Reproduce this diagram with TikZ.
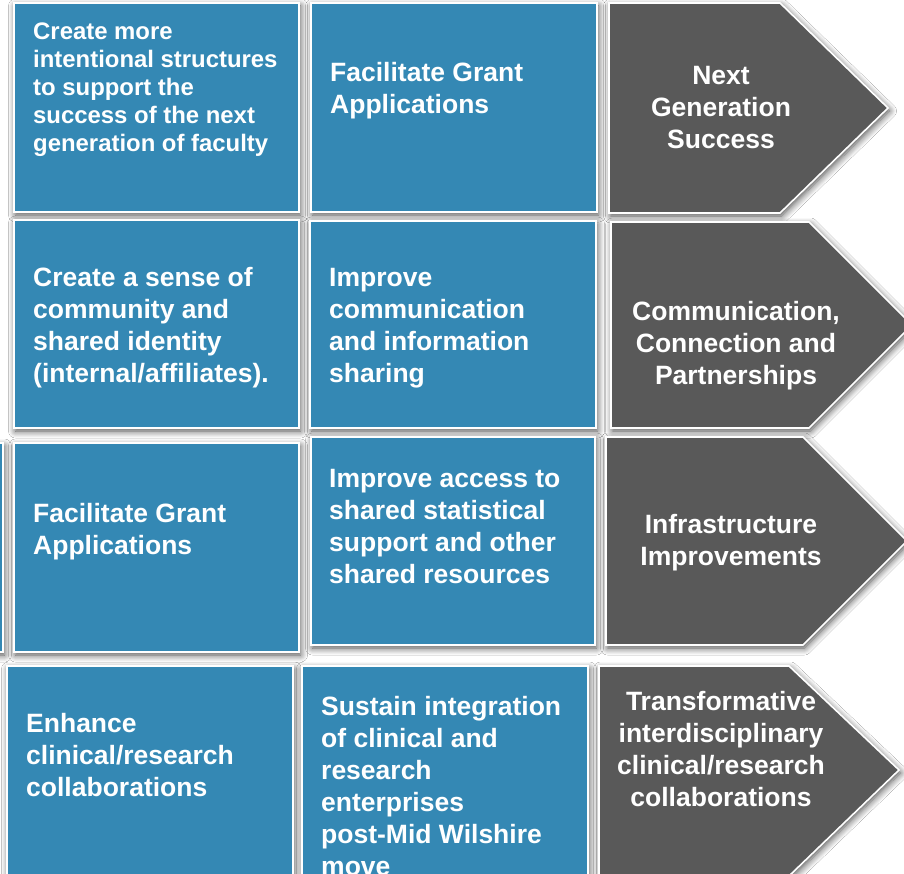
\documentclass[tikz,border=0pt]{standalone}
\usepackage{fontspec}
\setmainfont{Liberation Sans}
\usetikzlibrary{shadows.blur}
\definecolor{boxblue}{RGB}{52,136,180}
\definecolor{arrgray}{RGB}{89,89,89}
\tikzset{
  card/.style={fill=boxblue, draw=white, line width=1.6pt,
    blur shadow={shadow xshift=1.5pt, shadow yshift=-3pt, shadow blur radius=7pt, shadow opacity=70, shadow blur steps=8}},
  goal/.style={fill=arrgray, draw=white, line width=1.6pt,
    blur shadow={shadow xshift=1.5pt, shadow yshift=-3pt, shadow blur radius=7pt, shadow opacity=70, shadow blur steps=8}},
  txt/.style={text=white, inner sep=0pt, align=left, anchor=base west,
    font=\bfseries\fontsize{26.5}{32}\selectfont},
  smalltxt/.style={txt, font=\bfseries\fontsize{23.9}{28}\selectfont},
  gtxt/.style={text=white, inner sep=0pt, align=center, anchor=base,
    font=\bfseries\fontsize{26.5}{32}\selectfont},
}
\begin{document}
\begin{tikzpicture}[x=1pt,y=-1pt]
\useasboundingbox (0,0) rectangle (904,874);
\clip (0,0) rectangle (904,874);
\fill[white] (0,0) rectangle (904,874);
% row 1
\draw[card] (14,3) rectangle (299,212);
\draw[card] (311,3) rectangle (597,212);
\draw[goal] (609,3) -- (780,3) -- (888,108) -- (780,213) -- (609,213) -- cycle;
% row 2
\draw[card] (14,220) rectangle (299,428);
\draw[card] (310,221) rectangle (596,428);
\draw[goal] (611,222) -- (809,222) -- (912,325) -- (809,428) -- (611,428) -- cycle;
% row 3
\draw[card] (-300,443) rectangle (3,652);
\draw[card] (14,443) rectangle (299,652);
\draw[card] (311,437) rectangle (595,645);
\draw[goal] (606,437) -- (803,437) -- (907,541) -- (803,645) -- (606,645) -- cycle;
% row 4
\draw[card] (7,666) rectangle (293,890);
\draw[card] (302,666) rectangle (588,890);
\draw[goal] (599,666) -- (789,666) -- (899,770) -- (789,876) -- (599,876) -- cycle;
% texts row 1 (anchor = baseline of last line)
\node[smalltxt] (t11) at (33,152) {Create more\\intentional structures\\to support the\\success of the next\\generation of faculty};
\node[txt] (t12) at (330,114) {Facilitate Grant\\Applications};
\node[gtxt] (g1) at (721,149) {Next\\Generation\\Success};
% row 2
\node[txt] (t21) at (33,382) {Create a sense of\\community and\\shared identity\\(internal/affiliates).};
\node[txt] (t22) at (329,382) {Improve\\communication\\and information\\sharing};
\node[gtxt] (g2) at (736,384) {Communication,\\Connection and\\Partnerships};
% row 3
\node[txt] (t31) at (33,554) {Facilitate Grant\\Applications};
\node[txt] (t32) at (329,583) {Improve access to\\shared statistical\\support and other\\shared resources};
\node[gtxt] (g3) at (731,565) {Infrastructure\\Improvements};
% row 4
\node[txt] (t41) at (26,796) {Enhance\\clinical/research\\collaborations};
\node[txt] (t42) at (321,875) {Sustain integration\\of clinical and\\research\\enterprises\\post-Mid Wilshire\\move};
\node[gtxt] (g4) at (721,806) {Transformative\\interdisciplinary\\clinical/research\\collaborations};
\end{tikzpicture}
\end{document}
